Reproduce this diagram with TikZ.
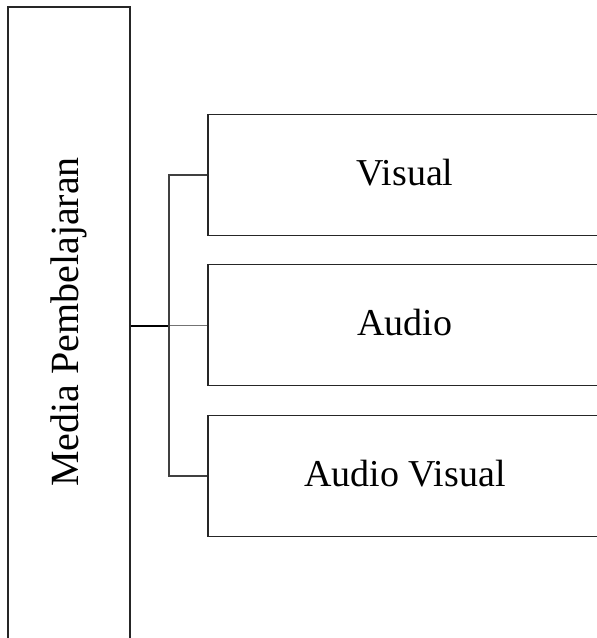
\documentclass[tikz,border=0pt]{standalone}
\usepackage{fontspec}
\setmainfont{Liberation Serif}
\begin{document}
\begin{tikzpicture}[x=1pt,y=-1pt,
  frame/.style={draw=black!85,line width=1.3pt,rectangle,inner sep=0pt},
  kind/.style={frame,minimum width=394pt,minimum height=121.5pt,
    text height=26pt,text depth=5pt,font=\fontsize{38}{44}\selectfont},
  link/.style={draw=black!75,line width=1.2pt}]
  \useasboundingbox (0,0) rectangle (597,638);
  \clip (0,0) rectangle (597,638);
  % tall box on the left, running past the lower edge
  \node[frame,minimum width=122pt,minimum height=640pt] (media) at (69,327) {};
  \node[rotate=90,font=\fontsize{40}{46}\selectfont] (mediatext) at (69,322) {Media Pembelajaran};
  % the three kinds, running past the right edge
  \node[kind] (visual) at (405,175) {Visual};
  \node[kind] (audio)  at (405,325) {Audio};
  \node[kind] (av)     at (405,476) {Audio Visual};
  % tree connector
  \coordinate (j) at (169,325.7);
  \draw[line width=1.6pt,black] (j -| media.east) -- (j);
  \draw[link,draw=black!55] (j) -- (audio.west |- j);
  \draw[link] (visual.west) -| (j) |- (av.west);
\end{tikzpicture}
\end{document}
